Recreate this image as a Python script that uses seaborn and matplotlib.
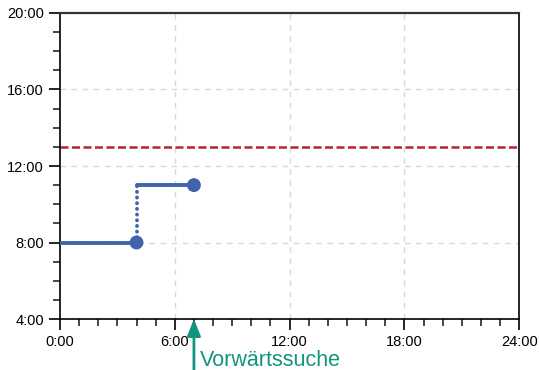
import numpy as np
import matplotlib.pyplot as plt
from matplotlib.ticker import MultipleLocator, FuncFormatter
import pandas as pd
import seaborn as sns

# step profile (hours)
low_x = [0, 4]
low_y = [8, 8]
high_x = [4, 7]
high_y = [11, 11]
jump_x = [4, 4]
jump_y = [8, 11]
point_x = [4, 7]
point_y = [8, 11]
limit_y = 13
arrow_x = 7
arrow_label = "Vorwärtssuche"

x_ticks = [0, 6, 12, 18, 24]
y_ticks = [4, 8, 12, 16, 20]

blue = "#4262aa"
red = "#b2243a"
green = "#12957f"

sns.set_style("ticks")
plt.rcParams['font.family'] = ['Liberation Sans', 'DejaVu Sans']

fig = plt.figure(figsize=(5.39, 3.70), dpi=100)
ax = fig.add_axes([0.1113, 0.1378, 0.852, 0.8271])

# grid
for xv in x_ticks[1:-1]:
    ax.axvline(xv, color="#d8d8d8", lw=1, ls=(0, (4, 4)), zorder=0)
for yv in y_ticks[1:-1]:
    ax.axhline(yv, color="#d8d8d8", lw=1, ls=(0, (4, 4)), zorder=0)

# limit line
ax.axhline(limit_y, color=red, lw=1.8, ls=(0, (3.2, 1.4)), zorder=2)

df_low = pd.DataFrame({"x": low_x, "y": low_y})
df_high = pd.DataFrame({"x": high_x, "y": high_y})
sns.lineplot(data=df_low, x="x", y="y", color=blue, lw=2.8, ax=ax, zorder=3)
sns.lineplot(data=df_high, x="x", y="y", color=blue, lw=2.8, ax=ax, zorder=3)
ax.plot(jump_x, jump_y, color=blue, lw=2.8, ls=(0, (0.01, 1.45)),
        dash_capstyle="round", zorder=3)
sns.scatterplot(x=point_x, y=point_y, color=blue, s=100, edgecolor="none",
                ax=ax, zorder=4)

ax.set_xlim(0, 24)
ax.set_ylim(4, 20)
ax.set_xticks(x_ticks)
ax.set_yticks(y_ticks)
ax.xaxis.set_minor_locator(MultipleLocator(1))
ax.yaxis.set_minor_locator(MultipleLocator(1))
fmt = FuncFormatter(lambda v, p: "%d:00" % int(v))
ax.xaxis.set_major_formatter(fmt)
ax.yaxis.set_major_formatter(fmt)
ax.tick_params(which="major", length=8, width=1.2, labelsize=10.5, colors="black")
ax.tick_params(which="minor", length=5, width=1.2)
ax.set_xlabel("")
ax.set_ylabel("")
for s in ax.spines.values():
    s.set_color("black")
    s.set_linewidth(1.2)
ax.spines["top"].set_color("#333333")
ax.spines["top"].set_linewidth(1.6)

# arrow
ax.annotate("", xy=(arrow_x, 4), xytext=(arrow_x, 1.3),
            arrowprops=dict(arrowstyle="-|>,head_length=1.0,head_width=0.4",
                            color=green, lw=2, shrinkA=0, shrinkB=0),
            annotation_clip=False)
ax.text(arrow_x + 0.3, 1.55, arrow_label, color=green, fontsize=15.5,
        va="baseline", ha="left", clip_on=False)

plt.savefig("out.png", dpi=100)
